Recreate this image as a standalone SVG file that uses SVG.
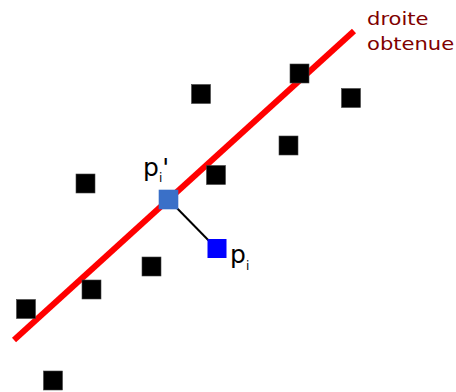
<svg xmlns="http://www.w3.org/2000/svg" width="456" height="392" viewBox="0 0 456 392">
<style>
.pt{fill:#000;stroke:#444;stroke-width:0.6}
.lbl{font-family:"DejaVu Sans",sans-serif;fill:#000}
.note{font-family:"DejaVu Sans",sans-serif;fill:#800000;font-size:18.5px}
</style>
<rect width="456" height="392" fill="#fff"/>
<g id="connectors">
<line x1="14" y1="340" x2="354" y2="31" stroke="#ff0000" stroke-width="6"/>
<line x1="168" y1="199" x2="216" y2="248" stroke="#000" stroke-width="2"/>
</g>
<g id="points">
<rect class="pt" x="191.5" y="84.5" width="19" height="19"/>
<rect class="pt" x="290" y="64" width="19" height="19"/>
<rect class="pt" x="341.5" y="88.5" width="19" height="19"/>
<rect class="pt" x="279" y="136" width="19" height="19"/>
<rect class="pt" x="206.5" y="165.5" width="19" height="19"/>
<rect class="pt" x="76" y="174" width="19" height="19"/>
<rect class="pt" x="142" y="257" width="19" height="19"/>
<rect class="pt" x="82" y="280" width="19" height="19"/>
<rect class="pt" x="16.5" y="299.5" width="19" height="19"/>
<rect class="pt" x="43.5" y="371" width="19" height="19"/>
</g>
<g id="pi-prime">
<rect x="159" y="190" width="19" height="19" fill="#3a70c8" stroke="#3a70c8" stroke-width="0.6"/>
<text class="lbl" x="143" y="175.5" font-size="25">p<tspan font-size="12" dy="6.5">i</tspan><tspan dy="-6.5">'</tspan></text>
</g>
<g id="pi">
<rect x="207.5" y="239" width="19" height="19" fill="#0000ff"/>
<text class="lbl" x="230" y="263" font-size="25">p<tspan font-size="12" dy="6.5">i</tspan></text>
</g>
<g id="label">
<text class="note" transform="translate(367,25) scale(1.14,1)">droite</text>
<text class="note" transform="translate(367,50) scale(1.14,1)">obtenue</text>
</g>
</svg>
